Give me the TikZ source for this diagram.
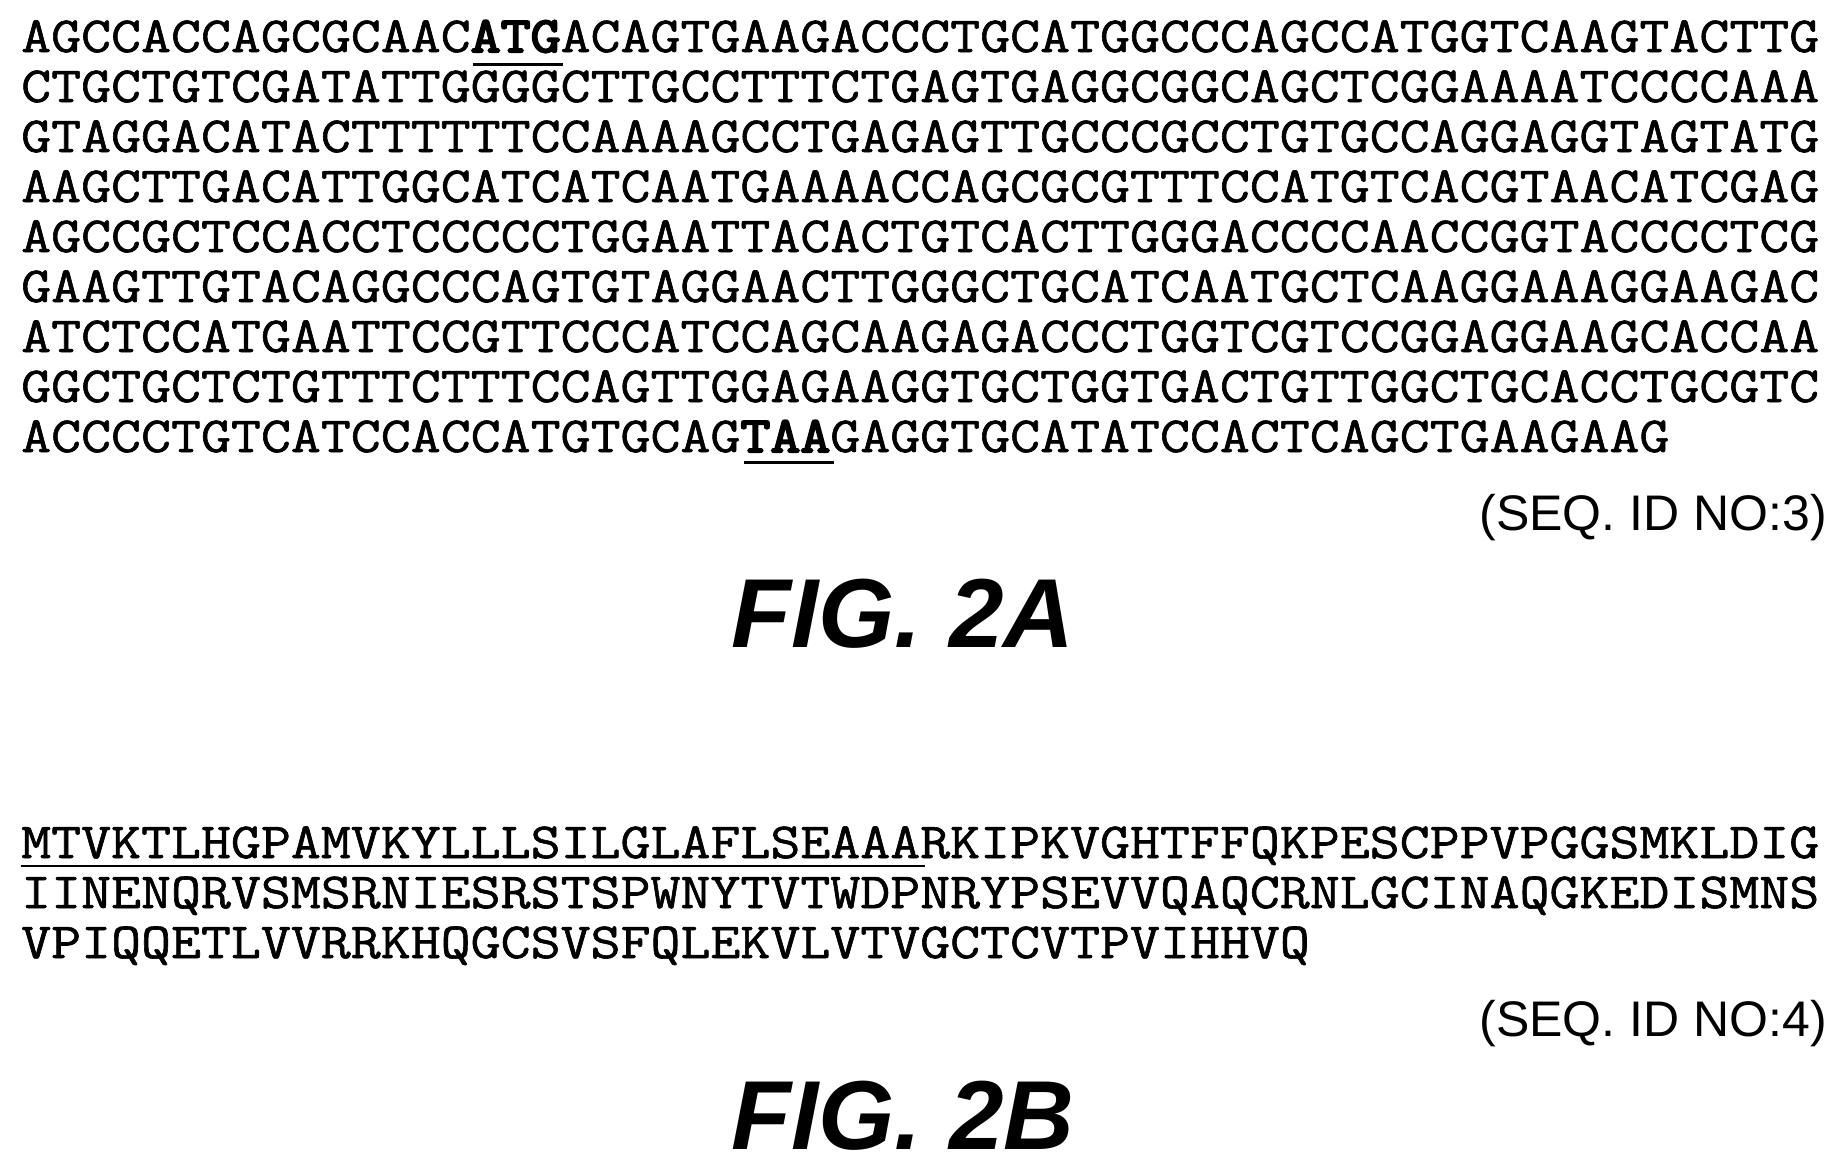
\documentclass[tikz,border=0pt]{standalone}
\usepackage{fontspec}
\setmainfont{Liberation Sans}
\newfontfamily\seqfont{Latin Modern Mono}[FakeBold=1.2,FakeStretch=1.15,BoldFont=Latin Modern Mono,BoldFeatures={FakeBold=4}]
\begin{document}
\begin{tikzpicture}[x=1pt,y=-1pt,
  seq/.style={anchor=base west,inner sep=0pt,font=\seqfont\fontsize{50.6}{50}\selectfont},
  lbl/.style={anchor=base east,inner sep=0pt,font=\fontsize{50}{50}\selectfont},
  fig/.style={inner sep=0pt,font=\bfseries\itshape\fontsize{98}{100}\selectfont}]
\useasboundingbox[fill=white] (0,0) rectangle (1841,1170);
\def\cw{30.12}
\node[seq] (a1) at (21,52) {AGCCACCAGCGCAAC\textbf{ATG}ACAGTGAAGACCCTGCATGGCCCAGCCATGGTCAAGTACTTG};
\node[seq] (a2) at (21,102) {CTGCTGTCGATATTGGGGCTTGCCTTTCTGAGTGAGGCGGCAGCTCGGAAAATCCCCAAA};
\node[seq] (a3) at (21,152) {GTAGGACATACTTTTTTCCAAAAGCCTGAGAGTTGCCCGCCTGTGCCAGGAGGTAGTATG};
\node[seq] (a4) at (21,202) {AAGCTTGACATTGGCATCATCAATGAAAACCAGCGCGTTTCCATGTCACGTAACATCGAG};
\node[seq] (a5) at (21,252) {AGCCGCTCCACCTCCCCCTGGAATTACACTGTCACTTGGGACCCCAACCGGTACCCCTCG};
\node[seq] (a6) at (21,302) {GAAGTTGTACAGGCCCAGTGTAGGAACTTGGGCTGCATCAATGCTCAAGGAAAGGAAGAC};
\node[seq] (a7) at (21,352) {ATCTCCATGAATTCCGTTCCCATCCAGCAAGAGACCCTGGTCGTCCGGAGGAAGCACCAA};
\node[seq] (a8) at (21,402) {GGCTGCTCTGTTTCTTTCCAGTTGGAGAAGGTGCTGGTGACTGTTGGCTGCACCTGCGTC};
\node[seq] (a9) at (21,452) {ACCCCTGTCATCCACCATGTGCAG\textbf{TAA}GAGGTGCATATCCACTCAGCTGAAGAAG};
\draw[line width=3pt] ({21+15*\cw},64) -- ({21+18*\cw},64);
\draw[line width=3pt] ({21+24*\cw},462) -- ({21+27*\cw},462);
\node[lbl] (s3) at (1827,530) {(SEQ. ID NO:3)};
\node[fig] (f2a) at (903,614) {FIG. 2A};
\node[seq] (b1) at (21,858) {MTVKTLHGPAMVKYLLLSILGLAFLSEAAARKIPKVGHTFFQKPESCPPVPGGSMKLDIG};
\node[seq] (b2) at (21,908) {IINENQRVSMSRNIESRSTSPWNYTVTWDPNRYPSEVVQAQCRNLGCINAQGKEDISMNS};
\node[seq] (b3) at (21,958) {VPIQQETLVVRRKHQGCSVSFQLEKVLVTVGCTCVTPVIHHVQ};
\draw[line width=1.8pt] (21,866) -- ({21+30*\cw},866);
\node[lbl] (s4) at (1827,1036) {(SEQ. ID NO:4)};
\node[fig] (f2b) at (903,1116) {FIG. 2B};
\end{tikzpicture}
\end{document}
